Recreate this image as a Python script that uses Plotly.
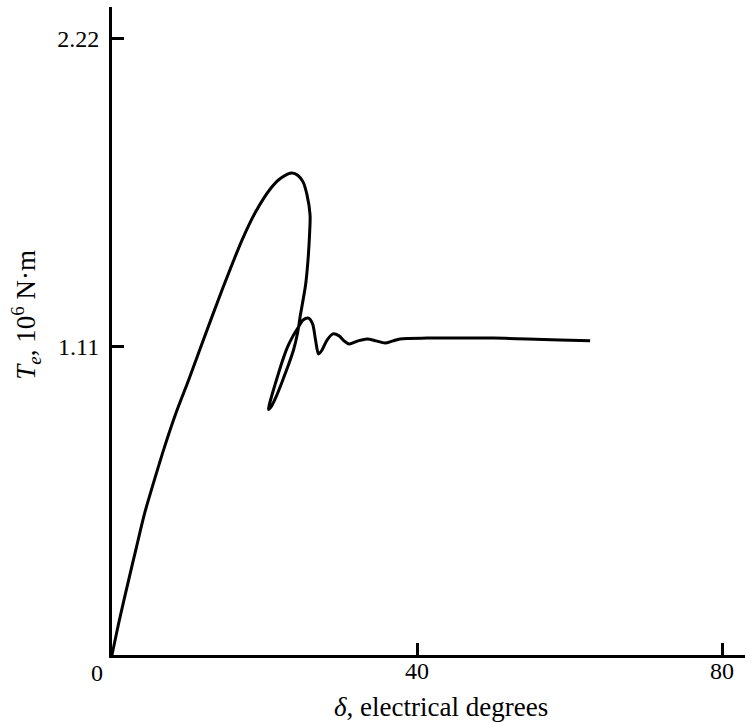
import plotly.graph_objects as go

# Trajectory of electrical torque (10^6 N·m) vs rotor angle (electrical degrees)
delta_deg = [0.0, 0.97, 2.18, 3.21, 4.29, 5.56, 6.89, 8.39, 10.05, 11.64,
             14.43, 17.05, 18.75, 20.85, 22.16, 23.61, 24.39,
             25.05, 25.57, 25.97, 25.90, 25.70, 25.38,
             24.66, 24.33, 23.80, 23.08, 22.30, 21.51, 20.92, 20.52,
             20.66, 21.05, 21.64, 22.30, 23.02, 23.74, 24.45, 25.05, 25.77,
             26.30, 26.69, 27.08, 27.54, 28.20, 28.98, 29.77, 30.43, 31.08,
             32.26, 33.44, 34.62, 35.80, 36.85, 37.77, 41.31, 45.64, 49.97,
             54.43, 58.75, 62.69]
te_mnm = [0.0, 0.126, 0.270, 0.389, 0.512, 0.631, 0.750, 0.872, 0.991, 1.110,
          1.315, 1.495, 1.593, 1.683, 1.719, 1.737, 1.728,
          1.705, 1.658, 1.586, 1.514, 1.423, 1.333,
          1.218, 1.160, 1.099, 1.041, 0.984, 0.930, 0.897, 0.885,
          0.905, 0.944, 0.998, 1.056, 1.110, 1.150, 1.182, 1.207, 1.214,
          1.193, 1.135, 1.085, 1.099, 1.135, 1.157, 1.150, 1.132, 1.121,
          1.132, 1.139, 1.132, 1.124, 1.132, 1.139, 1.142, 1.142, 1.142,
          1.139, 1.135, 1.132]

x_ticks = [40, 80]
x_ticklabels = ["40", "80"]
y_ticks = [1.11, 2.22]
y_ticklabels = ["1.11", "2.22"]

FONT = "Liberation Serif"

fig = go.Figure()
fig.add_trace(go.Scatter(
    x=delta_deg, y=te_mnm, mode="lines",
    line=dict(color="black", width=3, shape="spline", smoothing=0.8),
    hoverinfo="skip", showlegend=False,
))

fig.update_layout(
    width=745, height=723,
    margin=dict(l=112, r=0, t=7, b=68),
    paper_bgcolor="white", plot_bgcolor="white",
    font=dict(family=FONT, size=24, color="black"),
    xaxis=dict(
        range=[0, 83], showgrid=False, zeroline=False,
        showline=True, linecolor="black", linewidth=3,
        ticks="inside", ticklen=12, tickwidth=2.5, tickcolor="black",
        tickvals=x_ticks, ticktext=x_ticklabels,
        tickfont=dict(family=FONT, size=24, color="black"),
        ticklabelstandoff=-8,
    ),
    yaxis=dict(
        range=[0, 2.335], showgrid=False, zeroline=False,
        showline=True, linecolor="black", linewidth=3,
        ticks="inside", ticklen=12, tickwidth=2.5, tickcolor="black",
        tickvals=y_ticks, ticktext=y_ticklabels,
        tickfont=dict(family=FONT, size=24, color="black"),
        ticklabelstandoff=5,
    ),
    annotations=[
        dict(text="0", x=-0.0237, y=-0.0278, xref="paper", yref="paper",
             showarrow=False, xanchor="center", yanchor="middle",
             font=dict(family=FONT, size=24, color="black")),
        dict(text="<i>δ</i>, electrical degrees", x=0.52, y=-0.0802,
             xref="paper", yref="paper", showarrow=False,
             xanchor="center", yanchor="middle",
             font=dict(family=FONT, size=27, color="black")),
        dict(text="<i>T<sub>e</sub></i>, 10<sup>6</sup> N·m", x=-0.136, y=0.525,
             xref="paper", yref="paper", showarrow=False, textangle=-90,
             xanchor="center", yanchor="middle",
             font=dict(family=FONT, size=27, color="black")),
    ],
)

fig.write_html("out.html", config={"displayModeBar": False},
               post_script="document.body.style.margin='0';")
